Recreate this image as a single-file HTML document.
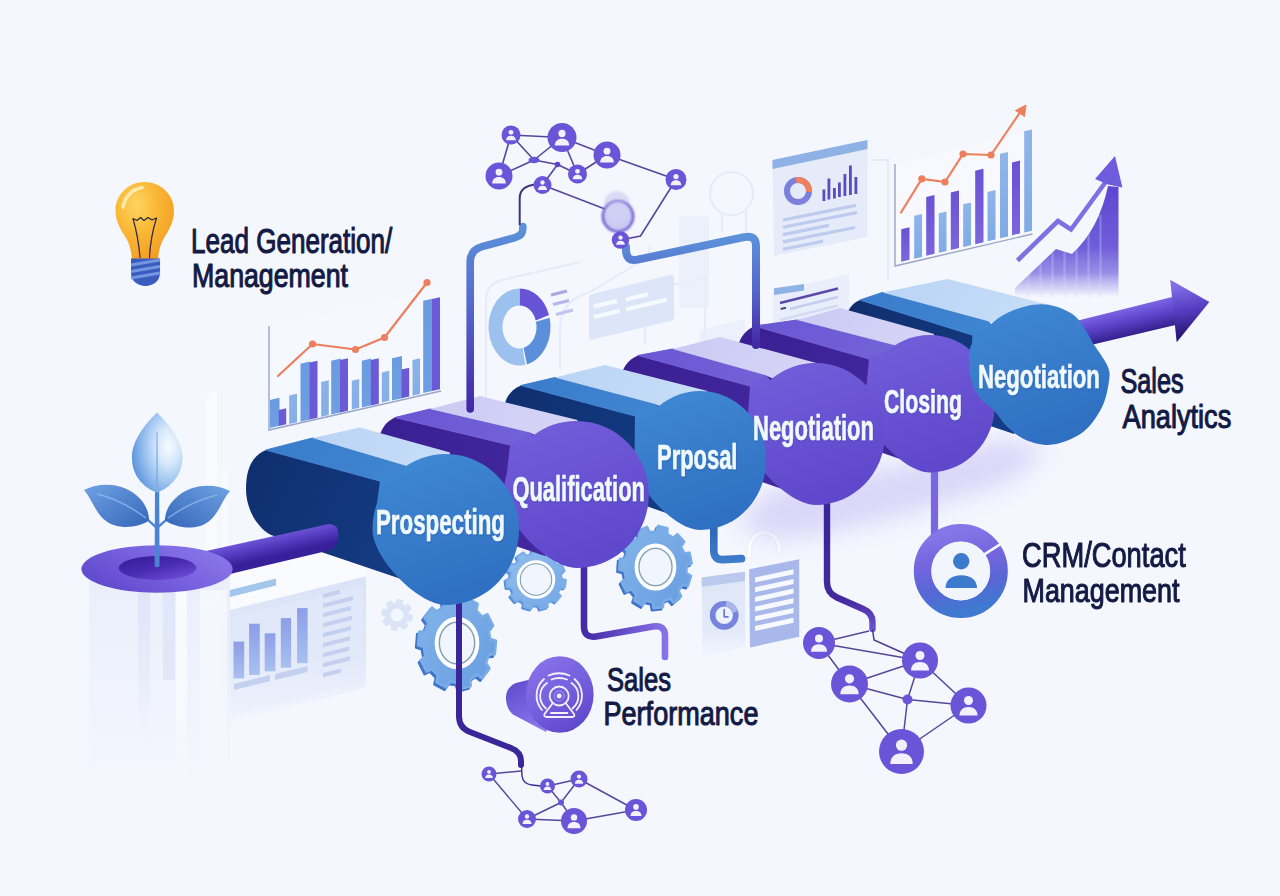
<!DOCTYPE html>
<html lang="en">
<head>
<meta charset="utf-8">
<title>Sales Pipeline</title>
<style>
html,body{margin:0;padding:0;background:#f4f7fe;}
body{width:1280px;height:896px;overflow:hidden;font-family:"Liberation Sans",sans-serif;}
svg{display:block;}
text{font-family:"Liberation Sans",sans-serif;}
</style>
</head>
<body>
<svg width="1280" height="896" viewBox="0 0 1280 896">
<defs>
<linearGradient id="faceB" x1="0" y1="0" x2="0.35" y2="1"><stop offset="0" stop-color="#418ad4"/><stop offset="1" stop-color="#2f70c2"/></linearGradient>
<linearGradient id="faceP" x1="0" y1="0" x2="0.35" y2="1"><stop offset="0" stop-color="#6d58da"/><stop offset="1" stop-color="#5c45c8"/></linearGradient>
<linearGradient id="darkB" x1="0" y1="0" x2="1" y2="0.3"><stop offset="0" stop-color="#0f2e6e"/><stop offset="1" stop-color="#153c84"/></linearGradient>
<linearGradient id="darkP" x1="0" y1="0" x2="1" y2="0.3"><stop offset="0" stop-color="#3a1f92"/><stop offset="1" stop-color="#44289f"/></linearGradient>
<linearGradient id="midB" x1="0" y1="0" x2="1" y2="0.3"><stop offset="0" stop-color="#3a7ccb"/><stop offset="1" stop-color="#4187d2"/></linearGradient>
<linearGradient id="midP" x1="0" y1="0" x2="1" y2="0.3"><stop offset="0" stop-color="#6a56d2"/><stop offset="1" stop-color="#7765da"/></linearGradient>
<linearGradient id="topB" x1="0" y1="0" x2="1" y2="0.3"><stop offset="0" stop-color="#bad4f5"/><stop offset="1" stop-color="#c7ddf8"/></linearGradient>
<linearGradient id="topP" x1="0" y1="0" x2="1" y2="0.3"><stop offset="0" stop-color="#cac9f3"/><stop offset="1" stop-color="#d6d5f7"/></linearGradient>
<linearGradient id="pipeBP" x1="0" y1="225" x2="0" y2="410" gradientUnits="userSpaceOnUse"><stop offset="0" stop-color="#5b93da"/><stop offset="0.45" stop-color="#5566cc"/><stop offset="1" stop-color="#4327a6"/></linearGradient>
<linearGradient id="pipeBP2" x1="0" y1="235" x2="0" y2="346" gradientUnits="userSpaceOnUse"><stop offset="0" stop-color="#5b93da"/><stop offset="0.5" stop-color="#5566cc"/><stop offset="1" stop-color="#4327a6"/></linearGradient>
<linearGradient id="pipeQ" x1="584" y1="0" x2="668" y2="0" gradientUnits="userSpaceOnUse"><stop offset="0" stop-color="#432aa8"/><stop offset="1" stop-color="#8a74ea"/></linearGradient>
<linearGradient id="pipeN" x1="0" y1="505" x2="0" y2="632" gradientUnits="userSpaceOnUse"><stop offset="0" stop-color="#3a2496"/><stop offset="0.75" stop-color="#45299f"/><stop offset="1" stop-color="#7058d8"/></linearGradient>
<linearGradient id="pipeP" x1="0" y1="522" x2="0" y2="562" gradientUnits="userSpaceOnUse"><stop offset="0" stop-color="#2d62b2"/><stop offset="1" stop-color="#3f7ccc"/></linearGradient>
<linearGradient id="arrShaft" x1="1127" y1="306" x2="1134" y2="336" gradientUnits="userSpaceOnUse"><stop offset="0" stop-color="#7f6ae8"/><stop offset="0.5" stop-color="#5a42c8"/><stop offset="1" stop-color="#301d88"/></linearGradient>
<linearGradient id="arrHead" x1="1175" y1="285" x2="1185" y2="338" gradientUnits="userSpaceOnUse"><stop offset="0" stop-color="#8270ea"/><stop offset="0.5" stop-color="#553cc0"/><stop offset="1" stop-color="#24146c"/></linearGradient>
<linearGradient id="rod" x1="270" y1="530" x2="276" y2="556" gradientUnits="userSpaceOnUse"><stop offset="0" stop-color="#7e66e4"/><stop offset="0.5" stop-color="#5a40c6"/><stop offset="1" stop-color="#38209a"/></linearGradient>
<linearGradient id="ring" x1="0" y1="0.8" x2="1" y2="0.2"><stop offset="0" stop-color="#5f46ca"/><stop offset="0.5" stop-color="#7660de"/><stop offset="1" stop-color="#8b78ea"/></linearGradient>
<linearGradient id="hole" x1="0.1" y1="0" x2="0.9" y2="1"><stop offset="0" stop-color="#371c96"/><stop offset="0.5" stop-color="#4a2cb2"/><stop offset="1" stop-color="#7450dc"/></linearGradient>
<linearGradient id="col" x1="0" y1="575" x2="0" y2="805" gradientUnits="userSpaceOnUse"><stop offset="0" stop-color="#e9eefb" stop-opacity="0.95"/><stop offset="0.45" stop-color="#edf1fc" stop-opacity="0.75"/><stop offset="0.8" stop-color="#eff3fd" stop-opacity="0.45"/><stop offset="1" stop-color="#f4f7fe" stop-opacity="0"/></linearGradient>
<linearGradient id="blPanel" x1="0" y1="580" x2="0" y2="725" gradientUnits="userSpaceOnUse"><stop offset="0" stop-color="#dbe4f7" stop-opacity="1"/><stop offset="0.55" stop-color="#e0e8f8" stop-opacity="0.95"/><stop offset="1" stop-color="#eaf0fb" stop-opacity="0.15"/></linearGradient>
<radialGradient id="leafTop" cx="0.72" cy="0.42" r="0.75"><stop offset="0" stop-color="#f6fbff"/><stop offset="0.3" stop-color="#d6e8fb"/><stop offset="0.62" stop-color="#9cc3f0"/><stop offset="1" stop-color="#5a92dc"/></radialGradient>
<linearGradient id="leafL" x1="0" y1="0" x2="1" y2="1"><stop offset="0" stop-color="#6fa2e4"/><stop offset="1" stop-color="#3566b8"/></linearGradient>
<linearGradient id="leafR" x1="1" y1="0" x2="0" y2="1"><stop offset="0" stop-color="#6fa2e4"/><stop offset="1" stop-color="#3566b8"/></linearGradient>
<linearGradient id="grow" x1="0" y1="185" x2="0" y2="298" gradientUnits="userSpaceOnUse"><stop offset="0" stop-color="#5c46d0" stop-opacity="1"/><stop offset="0.55" stop-color="#6a57d8" stop-opacity="0.96"/><stop offset="0.78" stop-color="#8474e0" stop-opacity="0.8"/><stop offset="0.92" stop-color="#a99eea" stop-opacity="0.4"/><stop offset="1" stop-color="#cfc9f4" stop-opacity="0"/></linearGradient>
<linearGradient id="barBP" x1="0" y1="0" x2="1" y2="0"><stop offset="0" stop-color="#6f9fe2"/><stop offset="0.48" stop-color="#6a93e0"/><stop offset="0.52" stop-color="#6a59d6"/><stop offset="1" stop-color="#7b6ae0"/></linearGradient>
<linearGradient id="barLB" x1="0" y1="0" x2="0" y2="1"><stop offset="0" stop-color="#8ab4ea"/><stop offset="1" stop-color="#7aa6e4"/></linearGradient>
<linearGradient id="barPu" x1="0" y1="0" x2="0" y2="1"><stop offset="0" stop-color="#6a52d4"/><stop offset="1" stop-color="#7864dc"/></linearGradient>
<linearGradient id="barBl" x1="0" y1="0" x2="0" y2="1"><stop offset="0" stop-color="#8fb6ea"/><stop offset="1" stop-color="#7da8e4"/></linearGradient>
<linearGradient id="cardBar" x1="0" y1="0" x2="0" y2="1"><stop offset="0" stop-color="#8c9ee6"/><stop offset="1" stop-color="#a9c0f0"/></linearGradient>
<linearGradient id="spIcon" x1="0.2" y1="0" x2="0.8" y2="1"><stop offset="0" stop-color="#8873e8"/><stop offset="0.5" stop-color="#7560de"/><stop offset="1" stop-color="#5c44c8"/></linearGradient>
<linearGradient id="spBack" x1="0" y1="0" x2="0.6" y2="1"><stop offset="0" stop-color="#5d48ca"/><stop offset="0.55" stop-color="#7762de"/><stop offset="1" stop-color="#8d7aea"/></linearGradient>
<linearGradient id="crmRing" x1="0.4" y1="0" x2="0.6" y2="1"><stop offset="0" stop-color="#8575e8"/><stop offset="0.35" stop-color="#7565de"/><stop offset="0.7" stop-color="#5767d6"/><stop offset="1" stop-color="#3f79d0"/></linearGradient>
<radialGradient id="bulb" cx="0.36" cy="0.3" r="0.75"><stop offset="0" stop-color="#fdd562"/><stop offset="0.45" stop-color="#fab938"/><stop offset="1" stop-color="#f39c20"/></radialGradient>
<linearGradient id="gearG" x1="0" y1="0" x2="1" y2="1"><stop offset="0" stop-color="#84b5ea"/><stop offset="1" stop-color="#669ce0"/></linearGradient>
<linearGradient id="gearG2" x1="0" y1="0" x2="1" y2="1"><stop offset="0" stop-color="#90bdee"/><stop offset="1" stop-color="#74a8e6"/></linearGradient>
<linearGradient id="docL" x1="0" y1="572" x2="0" y2="657" gradientUnits="userSpaceOnUse"><stop offset="0" stop-color="#dde5f8" stop-opacity="1"/><stop offset="0.7" stop-color="#e1e8f9" stop-opacity="0.9"/><stop offset="1" stop-color="#e8eefb" stop-opacity="0.3"/></linearGradient>
<linearGradient id="lcB" x1="0" y1="0" x2="0" y2="1"><stop offset="0" stop-color="#6a9be0"/><stop offset="1" stop-color="#6f9fe2"/></linearGradient>
<linearGradient id="lcP" x1="0" y1="0" x2="0" y2="1"><stop offset="0" stop-color="#6c5ad8"/><stop offset="1" stop-color="#6a59d4"/></linearGradient>
<linearGradient id="lcL" x1="0" y1="0" x2="0" y2="1"><stop offset="0" stop-color="#8ab2ea"/><stop offset="1" stop-color="#85aee8"/></linearGradient>
<linearGradient id="rcP" x1="0" y1="0" x2="0" y2="1"><stop offset="0" stop-color="#6a52d4"/><stop offset="1" stop-color="#7a66dc"/></linearGradient>
<linearGradient id="rcL" x1="0" y1="0" x2="0" y2="1"><stop offset="0" stop-color="#8fb6ea"/><stop offset="1" stop-color="#7faae4"/></linearGradient>
<linearGradient id="colStripe" x1="0" y1="588" x2="0" y2="760" gradientUnits="userSpaceOnUse"><stop offset="0" stop-color="#d9e1f6" stop-opacity="0.75"/><stop offset="0.55" stop-color="#e0e7f9" stop-opacity="0.45"/><stop offset="1" stop-color="#f4f7fe" stop-opacity="0"/></linearGradient>
<linearGradient id="colWhite" x1="0" y1="588" x2="0" y2="800" gradientUnits="userSpaceOnUse"><stop offset="0" stop-color="#ffffff" stop-opacity="0.75"/><stop offset="0.6" stop-color="#ffffff" stop-opacity="0.45"/><stop offset="1" stop-color="#ffffff" stop-opacity="0"/></linearGradient>
<filter id="blur6" x="-30%" y="-30%" width="160%" height="160%"><feGaussianBlur stdDeviation="6"/></filter>
<filter id="blur12" x="-30%" y="-30%" width="160%" height="160%"><feGaussianBlur stdDeviation="12"/></filter>
<filter id="blur2" x="-30%" y="-30%" width="160%" height="160%"><feGaussianBlur stdDeviation="2"/></filter>
<filter id="blur1" x="-30%" y="-30%" width="160%" height="160%"><feGaussianBlur stdDeviation="0.8"/></filter>
<clipPath id="clipNegUp"><rect x="950" y="290" width="200" height="105"/></clipPath>
</defs>
<rect x="0" y="0" width="1280" height="896" fill="#f4f7fe"/>
<g id="faint" fill="none" stroke="#e6ebf9" stroke-width="2">
<path d="M470,440 Q486,436 486,420 L486,300 Q486,284 502,280 L580,262"/>
<path d="M560,370 L560,330 Q560,300 590,292 L640,262 Q650,258 650,245"/>
<path d="M645,345 L645,292 L705,277 L705,345"/>
<circle cx="731.5" cy="193.5" r="21.5"/>
<path d="M722,213 L722,232 M746,209 L746,232"/>
<path d="M870,160 L888,160 L888,280"/>
</g>
<polygon points="700,355 700,330 745,319 745,345" fill="#e9eefb" opacity="0.8"/>
<polygon points="700,335 745,250 745,319 700,330" fill="#edf1fc" opacity="0.0"/>
<rect x="679" y="216" width="30" height="92" rx="3" fill="#e9edfa" opacity="0.75"/>
<path d="M205,560 L205,404 Q205,392 217,392 L217,560 Z" fill="#fbfcff" opacity="0.75"/>
<rect x="222" y="470" width="5" height="90" fill="#fbfcff" opacity="0.6"/>
<g id="leftChart">
<polygon points="269,326 441,287 441,391 269,430" fill="#ffffff" opacity="0.15"/>
<path d="M269,326 L269,430 L441,391" fill="none" stroke="#9aa6c8" stroke-width="1.4"/>
<polygon points="270,428 279.5,425.8 279.5,397.8 270,400" fill="url(#lcB)"/>
<polygon points="278.8,426 286.2,424.3 286.2,408.3 278.8,410" fill="url(#lcP)"/>
<polygon points="289.2,424 297,422.2 297,393.7 289.2,395.5" fill="url(#lcL)"/>
<polygon points="300.5,421.8 310,419.6 310,361.6 300.5,363.8" fill="url(#lcB)"/>
<polygon points="309.5,419.5 317.5,417.7 317.5,360.7 309.5,362.5" fill="url(#lcP)"/>
<polygon points="321.2,416.8 328.8,415 328.8,380.3 321.2,382" fill="url(#lcL)"/>
<polygon points="331.2,414.5 340.8,412.3 340.8,358.6 331.2,360.8" fill="url(#lcB)"/>
<polygon points="340,412.5 348,410.7 348,358.2 340,360" fill="url(#lcP)"/>
<polygon points="351.8,409.5 359.2,407.8 359.2,379 351.8,380.8" fill="url(#lcL)"/>
<polygon points="361.8,407.5 371.2,405.3 371.2,358.6 361.8,360.8" fill="url(#lcB)"/>
<polygon points="370.8,405.5 378.8,403.7 378.8,358.2 370.8,360" fill="url(#lcP)"/>
<polygon points="381.8,402.5 389.2,400.8 389.2,370.8 381.8,372.5" fill="url(#lcL)"/>
<polygon points="392,400.5 402,398.2 402,356 392,358.2" fill="url(#lcB)"/>
<polygon points="401.5,398.2 409.2,396.5 409.2,367.7 401.5,369.5" fill="url(#lcP)"/>
<polygon points="412.5,395.8 420,394 420,358.3 412.5,360" fill="url(#lcL)"/>
<polygon points="423.2,393 432.5,390.9 432.5,298.7 423.2,300.8" fill="url(#lcB)"/>
<polygon points="432,391 440,389.2 440,297.2 432,299" fill="url(#lcP)"/>
<polyline points="278,376 312.5,344 355.5,349.5 384.5,337.5 427,282.5" fill="none" stroke="#ee7f5c" stroke-width="2.2" stroke-linejoin="round" stroke-linecap="round"/>
<circle cx="312.5" cy="344" r="3.6" fill="#ee7f5c"/>
<circle cx="355.5" cy="349.5" r="3.6" fill="#ee7f5c"/>
<circle cx="384.5" cy="337.5" r="3.6" fill="#ee7f5c"/>
<circle cx="427" cy="282.5" r="3.6" fill="#ee7f5c"/>
</g>
<g id="donutBig">
<path d="M519.5,288.5 A31,38.5 0 0 1 549,315.1 L535.7,320.4 A17,21.5 0 0 0 519.5,305.5 Z" fill="#6653d6"/>
<path d="M549.6,317.7 A31,38.5 0 0 1 527,364.4 L523.6,347.9 A17,21.5 0 0 0 536,321.8 Z" fill="#5c8fda"/>
<path d="M525.4,364.8 A31,38.5 0 1 1 519.5,288.5 L519.5,305.5 A17,21.5 0 1 0 522.7,348.1 Z" fill="#9cc1ee"/>
<line x1="551" y1="295" x2="567" y2="291" stroke="#a9a6e4" stroke-width="3.2"/>
<line x1="553" y1="304.5" x2="569" y2="300.5" stroke="#b4b6ea" stroke-width="3.2"/>
<line x1="556" y1="314.5" x2="573" y2="310" stroke="#c0c6ee" stroke-width="3.2"/>
</g>
<g id="midCard">
<path d="M592,294 L670,275 Q674,274 674,278 L674,317 Q674,320 670,321 L593,339.5 Q589,340.5 589,336 L589,298 Q589,295 592,294 Z" fill="#dde5f8"/>
<line x1="594" y1="306.5" x2="617" y2="300.9" stroke="#f6f9ff" stroke-width="4.2"/>
<line x1="594" y1="317" x2="620" y2="310.7" stroke="#f6f9ff" stroke-width="4.2"/>
<line x1="626" y1="299.5" x2="648" y2="294.2" stroke="#f6f9ff" stroke-width="4.2"/>
<line x1="626" y1="309.5" x2="667" y2="299.5" stroke="#f6f9ff" stroke-width="4.2"/>
</g>
<g id="dashCard">
<polygon points="772.5,160 867.5,140 867.5,237 774,256" fill="#e6ebfa"/>
<polygon points="772.5,160 867.5,140 867.5,149 772.5,169" fill="#8fb2e6"/>
<circle cx="798" cy="191" r="11" fill="none" stroke="#7c80dc" stroke-width="6"/>
<path d="M796.1,180.2 A11,11 0 0 1 809,192" fill="none" stroke="#ee825c" stroke-width="6"/>
<rect x="822.5" y="189.5" width="2.8" height="11.5" fill="#5a4cbe"/>
<rect x="827.5" y="178.5" width="2.8" height="21" fill="#5a4cbe"/>
<rect x="833" y="188" width="2.8" height="10.5" fill="#5a4cbe"/>
<rect x="838" y="182.5" width="2.8" height="14.5" fill="#5a4cbe"/>
<rect x="843.5" y="174" width="2.8" height="22" fill="#5a4cbe"/>
<rect x="849" y="165.5" width="2.8" height="29.5" fill="#5a4cbe"/>
<rect x="854.5" y="177" width="2.8" height="17" fill="#5a4cbe"/>
<line x1="783" y1="220" x2="856" y2="205.4" stroke="#bccbee" stroke-width="3.2"/>
<line x1="783" y1="227.3" x2="857" y2="212.5" stroke="#bccbee" stroke-width="3.2"/>
<line x1="783" y1="234.6" x2="829" y2="225.4" stroke="#bccbee" stroke-width="3.2"/>
<line x1="783" y1="241.9" x2="855" y2="227.5" stroke="#bccbee" stroke-width="3.2"/>
<line x1="783" y1="249.2" x2="823" y2="241.2" stroke="#bccbee" stroke-width="3.2"/>
</g>
<g id="smallCard">
<polygon points="773,292 849,274 849,318 773,336" fill="#e9eefa"/>
<polygon points="774,288.3 804,283.9 804,290.6 774,295" fill="#8fb2e6"/>
<line x1="780" y1="303" x2="838" y2="288.5" stroke="#5b4aa8" stroke-width="2.6"/>
<line x1="780.6" y1="309" x2="786" y2="307.7" stroke="#4f4a78" stroke-width="2.2"/>
<line x1="790" y1="309" x2="838" y2="297" stroke="#c3cff0" stroke-width="2.6"/>
<line x1="780" y1="320" x2="838" y2="305.5" stroke="#d2dbf4" stroke-width="2.6"/>
</g>
<g id="rightChart">
<polygon points="895,164 1032.5,132 1032.5,234 895,266" fill="#ffffff" opacity="0.3"/>
<path d="M895,164 L895,266 L1032.5,234" fill="none" stroke="#9aa6c8" stroke-width="1.4"/>
<polygon points="901.2,261.8 909.5,259.8 909.5,227.3 901.2,229.2" fill="url(#rcP)"/>
<polygon points="914.2,258.8 922,256.9 922,213.9 914.2,215.8" fill="url(#rcL)"/>
<polygon points="926.2,255.8 934.5,253.8 934.5,195.1 926.2,197" fill="url(#rcP)"/>
<polygon points="938.8,252.8 946.5,250.9 946.5,211.4 938.8,213.2" fill="url(#rcL)"/>
<polygon points="950.8,250 959,248.1 959,190.6 950.8,192.5" fill="url(#rcP)"/>
<polygon points="963.2,247 971,245.2 971,202.4 963.2,204.2" fill="url(#rcL)"/>
<polygon points="975.2,244.2 983.5,242.3 983.5,168.8 975.2,170.8" fill="url(#rcP)"/>
<polygon points="987.5,241.2 995.5,239.4 995.5,190.1 987.5,192" fill="url(#rcL)"/>
<polygon points="1000,238.2 1008,236.4 1008,151.9 1000,153.8" fill="url(#rcL)"/>
<polygon points="1012,235.2 1020,233.4 1020,160.6 1012,162.5" fill="url(#rcP)"/>
<polygon points="1024.2,232.5 1032,230.7 1032,129.4 1024.2,131.2" fill="url(#rcL)"/>
<polyline points="901,212.5 921.8,178.8 945,182 963,154 991,155 1021,111" fill="none" stroke="#ee7f5c" stroke-width="2.2" stroke-linejoin="round" stroke-linecap="round"/>
<circle cx="921.8" cy="178.8" r="3.6" fill="#ee7f5c"/>
<circle cx="945" cy="182" r="3.6" fill="#ee7f5c"/>
<circle cx="963" cy="154" r="3.6" fill="#ee7f5c"/>
<circle cx="991" cy="155" r="3.6" fill="#ee7f5c"/>
<polygon points="1026,105 1015.5,110.5 1024.5,116.5" fill="#ee7f5c" stroke="#ee7f5c" stroke-width="1" stroke-linejoin="round"/>
</g>
<g id="growth">
<clipPath id="growClip"><path d="M1015,288 L1056,249 L1072,254 Q1099,229 1108,186 L1118.5,187 L1118.5,298 L1015,298 Z"/></clipPath>
<path d="M1015,288 L1056,249 L1072,254 Q1099,229 1108,186 L1118.5,187 L1118.5,298 L1015,298 Z" fill="url(#grow)"/>
<g clip-path="url(#growClip)">
<line x1="1028.5" y1="215" x2="1028.5" y2="297" stroke="#dcd8f8" stroke-width="2.2" opacity="0.3"/>
<line x1="1040.5" y1="215" x2="1040.5" y2="297" stroke="#dcd8f8" stroke-width="2.2" opacity="0.3"/>
<line x1="1052.5" y1="215" x2="1052.5" y2="297" stroke="#dcd8f8" stroke-width="2.2" opacity="0.3"/>
<line x1="1064.5" y1="215" x2="1064.5" y2="297" stroke="#dcd8f8" stroke-width="2.2" opacity="0.3"/>
<line x1="1076.5" y1="215" x2="1076.5" y2="297" stroke="#dcd8f8" stroke-width="2.2" opacity="0.3"/>
<line x1="1088.5" y1="215" x2="1088.5" y2="297" stroke="#dcd8f8" stroke-width="2.2" opacity="0.3"/>
<line x1="1100.5" y1="215" x2="1100.5" y2="297" stroke="#dcd8f8" stroke-width="2.2" opacity="0.3"/>
</g>
<polyline points="1017.5,260.5 1058,221 1071,229.5 1106,181.5" fill="none" stroke="#7e70e2" stroke-width="4.6" stroke-linejoin="miter" stroke-linecap="butt"/>
<polygon points="1115,156 1095,179 1108,184.5 1122.4,187.6" fill="#6f5cdc"/>
</g>
<g id="blCard">
<polygon points="220,566 366,530 366,576 220,612.5" fill="#fafcff" opacity="0.85"/>
<polygon points="222,592 276,578.5 276,585.5 222,599" fill="#a3c6ec"/>
<polygon points="222,592 228,590.5 228,597.5 222,599" fill="#c5d9f3"/>
<path d="M220,612.5 L363,577 Q366,576.3 366,579 L366,685 Q366,687.5 363,688.3 L220,725 Z" fill="url(#blPanel)"/>
<path d="M231,618 L363,585 L363,683 L231,716 Z" fill="#e6ecfb" opacity="0.35"/>
<rect x="233.5" y="641.6" width="10.7" height="36.8" fill="url(#cardBar)"/>
<rect x="249.1" y="623.7" width="10.7" height="51.3" fill="url(#cardBar)"/>
<rect x="264.7" y="633.3" width="10.7" height="38" fill="url(#cardBar)"/>
<rect x="280.8" y="618.1" width="10.3" height="49.6" fill="url(#cardBar)"/>
<rect x="297.1" y="608.1" width="10.5" height="55.1" fill="url(#cardBar)"/>
<polygon points="234,684 270,675 270,681 234,690" fill="#c3d1ef"/>
<polygon points="275,674 307.5,666 307.5,672 275,680" fill="#c3d1ef"/>
<polygon points="323,594 340,589.8 340,594 323,598.2" fill="#c4d0ef"/>
<polygon points="323,603.5 353,596 353,600.2 323,607.7" fill="#c4d0ef"/>
<polygon points="323,613 351,606 351,610.2 323,617.2" fill="#c4d0ef"/>
<polygon points="323,623 352,615.8 352,620 323,627.2" fill="#c4d0ef"/>
<polygon points="323,633 351,626 351,630.2 323,637.2" fill="#c4d0ef"/>
<polygon points="323,643 350,636.2 350,640.5 323,647.2" fill="#c4d0ef"/>
<polygon points="323,653 349,646.5 349,650.7 323,657.2" fill="#c4d0ef"/>
<polygon points="323,663 350,656.2 350,660.5 323,667.2" fill="#c4d0ef"/>
<polygon points="323,673 341,668.5 341,672.7 323,677.2" fill="#c4d0ef"/>
</g>
<g id="plantBack">
<path d="M89,575 L89,806 L230,806 L230,575 Z" fill="url(#col)"/>
<rect x="138" y="590" width="12" height="170" fill="url(#colStripe)"/>
<rect x="163" y="590" width="12" height="90" fill="#dbe3f7" opacity="0.7"/>
<rect x="176" y="590" width="11" height="210" fill="url(#colWhite)"/>
<rect x="200" y="590" width="27" height="210" fill="url(#colWhite)" opacity="0.7"/>
</g>
<g id="docCards">
<polygon points="701.7,577.5 745,571.7 745,646.7 702.5,656.7" fill="url(#docL)"/>
<polygon points="701.7,577.5 745,571.7 745,581 701.7,586.8" fill="#bcc9ee"/>
<circle cx="724.2" cy="615.3" r="11.6" fill="#dfe6f8" stroke="#7884dc" stroke-width="5.6"/>
<path d="M726,603.8 A11.6,11.6 0 0 1 735.4,612" fill="none" stroke="#a9b4ec" stroke-width="5.6"/>
<circle cx="724.2" cy="615.3" r="8" fill="#eef2fc"/>
<path d="M724.2,609.5 L724.2,616.8 L728,616.8" fill="none" stroke="#6a78d4" stroke-width="1.7" stroke-linecap="round" stroke-linejoin="round"/>
<polygon points="749.2,569.2 799.2,559.2 799.2,636.7 750,647.5" fill="#a9b8ea"/>
<polygon points="755,577.5 793.5,569.2 793.5,574.2 755,582.5" fill="#f6f9ff"/>
<polygon points="755,587.2 793.5,578.9 793.5,583.9 755,592.2" fill="#f6f9ff"/>
<polygon points="755,596.9 793.5,588.6 793.5,593.6 755,601.9" fill="#f6f9ff"/>
<polygon points="755,606.6 793.5,598.3 793.5,603.3 755,611.6" fill="#f6f9ff"/>
<polygon points="755,616.3 793.5,608 793.5,613 755,621.3" fill="#f6f9ff"/>
<polygon points="755,626 793.5,617.7 793.5,622.7 755,631" fill="#f6f9ff"/>
<path d="M749.5,556 L749.5,548 A14.75,15.5 0 0 1 779,548 L779,551.5" fill="none" stroke="#e3e6f7" stroke-width="5.4" stroke-linecap="round" opacity="0.8"/>
<path d="M749.5,556 L749.5,548 A14.75,15.5 0 0 1 779,548 L779,551.5" fill="none" stroke="#ffffff" stroke-width="3.8" stroke-linecap="round"/>
</g>
<g id="bulb">
<path d="M144.5,182 C128,182 115.5,195 115.5,210.5 C115.5,222 121,230 126,238 C130,245 131.5,252 132,260 L158,260 C158.5,252 160,245 164,238 C169,230 174,222 174,210.5 C174,195 161,182 144.5,182 Z" fill="url(#bulb)"/>
<path d="M123,207 C125,196 133,189 142,187.5" fill="none" stroke="#fff0bd" stroke-width="3.6" stroke-linecap="round" opacity="0.85"/>
<path d="M140,258 C139,243 136.5,231 133,218.5 L137,220.5 L140.5,217.5 L144,220.5 L148,217.5 L152,220 L156.5,218 C152.5,231 150,243 149.5,258" fill="none" stroke="#2a2740" stroke-width="1.2" stroke-linejoin="round"/>
<path d="M131,258.5 L160,258.5 L160,273 C160,281 153,286 145.5,286 C138,286 131,281 131,273 Z" fill="#3a5cbe"/>
<path d="M131,265 L160,260" stroke="#7395e2" stroke-width="3" fill="none"/>
<path d="M131,271.5 L160,266.5" stroke="#7395e2" stroke-width="3" fill="none"/>
<path d="M131,278 L160,273" stroke="#7395e2" stroke-width="3" fill="none"/>
</g>
<g filter="url(#blur12)" opacity="0.6"><polygon points="735,520 775,488 880,470 1000,440 1050,448 1010,482 905,515 820,535 770,540" fill="#c9c1f5"/></g>
<g id="gears">
<g transform="translate(397,615)"><path d="M11.5,-0.4 L15,0.5 L14,5.4 L10.4,4.9 L8.4,7.8 L10.2,11 L6.1,13.7 L3.9,10.8 L0.4,11.5 L-0.5,15 L-5.4,14 L-4.9,10.4 L-7.8,8.4 L-11,10.2 L-13.7,6.1 L-10.8,3.9 L-11.5,0.4 L-15,-0.5 L-14,-5.4 L-10.4,-4.9 L-8.4,-7.8 L-10.2,-11 L-6.1,-13.7 L-3.9,-10.8 L-0.4,-11.5 L0.5,-15 L5.4,-14 L4.9,-10.4 L7.8,-8.4 L11,-10.2 L13.7,-6.1 L10.8,-3.9Z" fill="#dbe4f6" stroke="#dbe4f6" stroke-width="2" stroke-linejoin="round"/><circle r="6.5" fill="#f3f6fe"/></g>
<g transform="translate(536,579.5) scale(0.750,0.750)" opacity="1.0"><path d="M34.4,-0.9 L40,0.7 L38.4,11.1 L32.6,11.1 L29.4,17.8 L33.2,22.2 L26.3,30.1 L21.4,26.9 L15.1,30.9 L15.9,36.7 L5.9,39.6 L3.5,34.2 L-4,34.2 L-6.4,39.5 L-16.5,36.5 L-15.6,30.7 L-21.8,26.6 L-26.8,29.7 L-33.6,21.8 L-29.7,17.4 L-32.7,10.6 L-38.6,10.6 L-40,0.2 L-34.4,-1.4 L-33.3,-8.8 L-38.2,-12 L-33.7,-21.5 L-28.1,-19.8 L-23.2,-25.4 L-25.6,-30.7 L-16.8,-36.3 L-13,-31.9 L-5.8,-33.9 L-5,-39.7 L5.5,-39.6 L6.3,-33.8 L13.4,-31.7 L17.3,-36.1 L26.1,-30.3 L23.6,-25 L28.4,-19.4 L34,-21 L38.3,-11.4 L33.4,-8.3Z" fill="#5a8ed8" transform="translate(-2,2)" stroke="#5a8ed8" stroke-width="2.5" stroke-linejoin="round"/><path d="M34.4,-0.9 L40,0.7 L38.4,11.1 L32.6,11.1 L29.4,17.8 L33.2,22.2 L26.3,30.1 L21.4,26.9 L15.1,30.9 L15.9,36.7 L5.9,39.6 L3.5,34.2 L-4,34.2 L-6.4,39.5 L-16.5,36.5 L-15.6,30.7 L-21.8,26.6 L-26.8,29.7 L-33.6,21.8 L-29.7,17.4 L-32.7,10.6 L-38.6,10.6 L-40,0.2 L-34.4,-1.4 L-33.3,-8.8 L-38.2,-12 L-33.7,-21.5 L-28.1,-19.8 L-23.2,-25.4 L-25.6,-30.7 L-16.8,-36.3 L-13,-31.9 L-5.8,-33.9 L-5,-39.7 L5.5,-39.6 L6.3,-33.8 L13.4,-31.7 L17.3,-36.1 L26.1,-30.3 L23.6,-25 L28.4,-19.4 L34,-21 L38.3,-11.4 L33.4,-8.3Z" fill="url(#gearG2)" stroke="#7aade8" stroke-width="2.5" stroke-linejoin="round"/><circle r="24" fill="#f0f5fe" stroke="#ffffff" stroke-width="3.4"/><circle r="20.9" fill="none" stroke="#6c8fa6" stroke-width="1.4" opacity="0.85"/></g>
<g transform="translate(655.5,567) scale(0.912,1.030)" opacity="1.0"><path d="M33.9,5.9 L39,8.7 L35.5,18.5 L29.7,17.3 L25.3,23.3 L28.2,28.4 L19.8,34.7 L15.7,30.6 L8.7,33.3 L8.3,39.1 L-2.1,39.9 L-3.4,34.2 L-10.7,32.7 L-14.1,37.4 L-23.4,32.5 L-21.4,27 L-26.7,21.7 L-32.1,23.8 L-37.2,14.7 L-32.5,11.1 L-34.2,3.9 L-39.9,2.7 L-39.2,-7.8 L-33.4,-8.2 L-30.8,-15.2 L-35,-19.3 L-28.8,-27.8 L-23.7,-25 L-17.7,-29.5 L-19,-35.2 L-9.2,-38.9 L-6.4,-33.8 L1,-34.4 L3,-39.9 L13.3,-37.7 L12.9,-31.9 L19.5,-28.4 L24.1,-31.9 L31.6,-24.6 L28.1,-19.9 L31.7,-13.3 L37.5,-13.8 L39.8,-3.6 L34.4,-1.5Z" fill="#3f74c6" transform="translate(-2,2)" stroke="#3f74c6" stroke-width="2.5" stroke-linejoin="round"/><path d="M33.9,5.9 L39,8.7 L35.5,18.5 L29.7,17.3 L25.3,23.3 L28.2,28.4 L19.8,34.7 L15.7,30.6 L8.7,33.3 L8.3,39.1 L-2.1,39.9 L-3.4,34.2 L-10.7,32.7 L-14.1,37.4 L-23.4,32.5 L-21.4,27 L-26.7,21.7 L-32.1,23.8 L-37.2,14.7 L-32.5,11.1 L-34.2,3.9 L-39.9,2.7 L-39.2,-7.8 L-33.4,-8.2 L-30.8,-15.2 L-35,-19.3 L-28.8,-27.8 L-23.7,-25 L-17.7,-29.5 L-19,-35.2 L-9.2,-38.9 L-6.4,-33.8 L1,-34.4 L3,-39.9 L13.3,-37.7 L12.9,-31.9 L19.5,-28.4 L24.1,-31.9 L31.6,-24.6 L28.1,-19.9 L31.7,-13.3 L37.5,-13.8 L39.8,-3.6 L34.4,-1.5Z" fill="url(#gearG)" stroke="#7aade8" stroke-width="2.5" stroke-linejoin="round"/><circle r="21.2" fill="#f0f5fe" stroke="#ffffff" stroke-width="3.4"/><circle r="18.1" fill="none" stroke="#6c8fa6" stroke-width="1.4" opacity="0.85"/></g>
<g transform="translate(457,643) scale(0.975,1.150)" opacity="1.0"><path d="M34.2,-3.3 L40,-1.8 L38.8,9.7 L32.9,10 L29.6,17.5 L33.4,22 L25.7,30.6 L20.8,27.4 L13.7,31.6 L14,37.5 L2.8,39.9 L0.7,34.4 L-7.5,33.6 L-10.7,38.6 L-21.2,33.9 L-19.7,28.2 L-25.8,22.8 L-31.3,24.9 L-37.1,15 L-32.5,11.3 L-34.2,3.3 L-40,1.8 L-38.8,-9.7 L-32.9,-10 L-29.6,-17.5 L-33.4,-22 L-25.7,-30.6 L-20.8,-27.4 L-13.7,-31.6 L-14,-37.5 L-2.8,-39.9 L-0.7,-34.4 L7.5,-33.6 L10.7,-38.6 L21.2,-33.9 L19.7,-28.2 L25.8,-22.8 L31.3,-24.9 L37.1,-15 L32.5,-11.3Z" fill="#3f74c6" transform="translate(-2,2)" stroke="#3f74c6" stroke-width="2.5" stroke-linejoin="round"/><path d="M34.2,-3.3 L40,-1.8 L38.8,9.7 L32.9,10 L29.6,17.5 L33.4,22 L25.7,30.6 L20.8,27.4 L13.7,31.6 L14,37.5 L2.8,39.9 L0.7,34.4 L-7.5,33.6 L-10.7,38.6 L-21.2,33.9 L-19.7,28.2 L-25.8,22.8 L-31.3,24.9 L-37.1,15 L-32.5,11.3 L-34.2,3.3 L-40,1.8 L-38.8,-9.7 L-32.9,-10 L-29.6,-17.5 L-33.4,-22 L-25.7,-30.6 L-20.8,-27.4 L-13.7,-31.6 L-14,-37.5 L-2.8,-39.9 L-0.7,-34.4 L7.5,-33.6 L10.7,-38.6 L21.2,-33.9 L19.7,-28.2 L25.8,-22.8 L31.3,-24.9 L37.1,-15 L32.5,-11.3Z" fill="url(#gearG)" stroke="#7aade8" stroke-width="2.5" stroke-linejoin="round"/><circle r="21.2" fill="#f0f5fe" stroke="#ffffff" stroke-width="3.4"/><circle r="18.1" fill="none" stroke="#6c8fa6" stroke-width="1.4" opacity="0.85"/></g>
</g>
<g id="underPipes" fill="none" stroke-linecap="round" stroke-linejoin="round">
<path d="M459,600 L459,716 Q459,728 470,732 L511,748 Q521,752 521,761 L521,765" stroke="#3b2699" stroke-width="6"/>
<path d="M584,560 L584,626 Q584,638.5 596,636.5 L653,626.5 Q665,624.5 665,636 L665,657" stroke="url(#pipeQ)" stroke-width="6.6"/>
<path d="M713.8,520 L713.8,550.5 Q713.8,560 723,559.6 L741.5,558.6" stroke="url(#pipeP)" stroke-width="7.6"/>
<path d="M827,498 L827,582 Q827,593 837,597.5 L863,609 Q872.5,613 872.5,622 L872.5,629" stroke="url(#pipeN)" stroke-width="6.4"/>
<path d="M934.5,462 L934.5,536" stroke="#7b66e2" stroke-width="7.2" stroke-linecap="butt"/>
</g>
<g id="pipeline">
<polygon points="1066,323.5 1174,296.6 1177.5,324.5 1076,348.5" fill="url(#arrShaft)"/>
<polygon points="1170.2,279.7 1209.4,302 1176.7,342.3" fill="url(#arrHead)"/>
<path d="M860,300 C846,306 845,318 845,338 C845,360 854,378 866,384 L1014,434 L1039,375 L972.5,335 Z" fill="url(#darkB)"/>
<polygon points="860,300 882.5,292.5 987.5,321 1039,375 972.5,335" fill="url(#midB)" stroke="url(#midB)" stroke-width="1.2" stroke-linejoin="round"/>
<polygon points="882.5,292.5 947.5,279 1050,305 1039,340 987.5,321" fill="url(#topB)"/>
<linearGradient id="fg5" x1="969" y1="305" x2="1018" y2="445" gradientUnits="userSpaceOnUse"><stop offset="0" stop-color="#418ad4"/><stop offset="1" stop-color="#2f70c2"/></linearGradient>
<polygon points="987.5,321 972.5,335 969.4,379 1039,375" fill="url(#fg5)"/>
<path d="M755,326 C741,332 736,344 736,364 C736,386 746,404 758,410 L900,459 L929.5,403.8 L869,359 Z" fill="url(#darkP)"/>
<polygon points="755,326 797,320 897.5,346 929.5,403.8 869,359" fill="url(#midP)" stroke="url(#midP)" stroke-width="1.2" stroke-linejoin="round"/>
<polygon points="797,320 840,308 934,334 929.5,369.4 897.5,346" fill="url(#topP)"/>
<linearGradient id="fg4" x1="864" y1="335" x2="909.9" y2="472.5" gradientUnits="userSpaceOnUse"><stop offset="0" stop-color="#735fdc"/><stop offset="1" stop-color="#5f48cb"/></linearGradient>
<polygon points="897.5,346 869,359 864.4,407.8 929.5,403.8" fill="url(#fg4)"/>
<path d="M864,403.8 C864,365.8 893.3,335 929.5,335 C965.7,335 995,365.8 995,403.8 C995,441.7 965.7,472.5 929.5,472.5 C904.6,472.5 864,429.9 864,403.8 Z" fill="url(#fg4)"/>
<path d="M969,366 C968.8,360.3 968.7,352 970.5,347 C972.3,342 975.1,341 980,336 C984.9,331 992.5,321.9 1000,317 C1007.5,312.1 1016.9,308.4 1025,306.4 C1033.1,304.4 1040.7,303.4 1048.7,304.8 C1056.8,306.2 1067.1,310.3 1073.3,314.7 C1079.5,319.1 1082.5,325.9 1086,331 C1089.5,336.1 1090.6,339.2 1094.2,345 C1097.8,350.8 1105,359.9 1107.5,365.9 C1110,371.9 1110,374.1 1109,381 C1108,387.9 1106.2,399.1 1101.8,407.6 C1097.4,416.2 1091,426.1 1082.8,432.3 C1074.6,438.5 1062,443.3 1052.5,444.6 C1043,445.9 1033.5,442.9 1025.9,439.9 C1018.3,436.9 1012,431.3 1006.9,426.6 C1001.8,421.9 999.5,416.3 995,411.5 C990.5,406.7 983.9,403.1 980,398 C976.1,392.9 973.3,386.3 971.5,381 C969.7,375.7 969.2,371.7 969,366 Z" fill="url(#fg5)"/>
<path d="M638,355.5 C624,361.5 619,374 619,394 C619,416 630,435 642,441 L785,490 L815.5,434 L750,386 Z" fill="url(#darkP)"/>
<polygon points="638,355.5 672.5,349 765,375 815.5,434 750,386" fill="url(#midP)" stroke="url(#midP)" stroke-width="1.2" stroke-linejoin="round"/>
<polygon points="672.5,349 720,337 820,364 815.5,398.5 765,375" fill="url(#topP)"/>
<linearGradient id="fg3" x1="746" y1="363" x2="794.6" y2="505" gradientUnits="userSpaceOnUse"><stop offset="0" stop-color="#735fdc"/><stop offset="1" stop-color="#5f48cb"/></linearGradient>
<polygon points="765,375 750,386 746.4,438 815.5,434" fill="url(#fg3)"/>
<path d="M746,434 C746,394.8 777.1,363 815.5,363 C853.9,363 885,394.8 885,434 C885,473.2 853.9,505 815.5,505 C789.1,505 746,461 746,434 Z" fill="url(#fg3)"/>
<path d="M521,385.5 C507,391.5 503,402 503,422 C503,444 513,458 525,464 L672,515 L700,460.5 L635,416 Z" fill="url(#darkB)"/>
<polygon points="521,385.5 555,377.5 655,404 700,460.5 635,416" fill="url(#midB)" stroke="url(#midB)" stroke-width="1.2" stroke-linejoin="round"/>
<polygon points="555,377.5 605,365 707.5,391 700,425.8 655,404" fill="url(#topB)"/>
<linearGradient id="fg2" x1="634" y1="391" x2="680.2" y2="530" gradientUnits="userSpaceOnUse"><stop offset="0" stop-color="#418ad4"/><stop offset="1" stop-color="#2f70c2"/></linearGradient>
<polygon points="655,404 635,416 634.4,464.5 700,460.5" fill="url(#fg2)"/>
<path d="M634,460.5 C634,422.1 663.5,391 700,391 C736.5,391 766,422.1 766,460.5 C766,498.9 736.5,530 700,530 C674.9,530 634,486.9 634,460.5 Z" fill="url(#fg2)"/>
<path d="M395,417.5 C381,423.5 377,438 377,458 C377,480 388,501 400,507 L545,556 L576.2,494.5 L510,445 Z" fill="url(#darkP)"/>
<polygon points="395,417.5 430,409 530,432.5 576.2,494.5 510,445" fill="url(#midP)" stroke="url(#midP)" stroke-width="1.2" stroke-linejoin="round"/>
<polygon points="430,409 480,396 577.5,420 576.2,457.8 530,432.5" fill="url(#topP)"/>
<linearGradient id="fg1" x1="503.8" y1="421" x2="554.5" y2="568" gradientUnits="userSpaceOnUse"><stop offset="0" stop-color="#735fdc"/><stop offset="1" stop-color="#5f48cb"/></linearGradient>
<polygon points="530,432.5 510,445 504.1,498.5 576.2,494.5" fill="url(#fg1)"/>
<path d="M503.8,494.5 C503.8,453.9 536.2,421 576.2,421 C616.3,421 648.8,453.9 648.8,494.5 C648.8,535.1 616.3,568 576.2,568 C548.7,568 503.8,522.4 503.8,494.5 Z" fill="url(#fg1)"/>
<path d="M266,450 C252,456 246,469 246,489 C246,511 259,529 271,535 L410,582 L445.8,529.5 L380,481 Z" fill="url(#darkB)"/>
<polygon points="266,450 312.5,438 405,465.5 445.8,529.5 380,481" fill="url(#midB)" stroke="url(#midB)" stroke-width="1.2" stroke-linejoin="round"/>
<polygon points="312.5,438 360,427.5 450,452.5 445.8,491.8 405,465.5" fill="url(#topB)"/>
<linearGradient id="fg0" x1="372.5" y1="454" x2="423.8" y2="605" gradientUnits="userSpaceOnUse"><stop offset="0" stop-color="#418ad4"/><stop offset="1" stop-color="#2f70c2"/></linearGradient>
<polygon points="405,465.5 380,481 372.9,533.5 445.8,529.5" fill="url(#fg0)"/>
<path d="M372.5,529.5 C372.5,487.8 405.3,454 445.8,454 C486.2,454 519,487.8 519,529.5 C519,571.2 486.2,605 445.8,605 C417.9,605 372.5,558.2 372.5,529.5 Z" fill="url(#fg0)"/>
</g>
<g id="plant">
<path d="M206,551 L329,524 Q339.5,524 338.5,537 Q337,548 331,550 L226,575 Z" fill="url(#rod)"/>
<ellipse cx="157" cy="569" rx="75.6" ry="23.8" fill="url(#ring)"/>
<ellipse cx="157.5" cy="568" rx="38.8" ry="12" fill="url(#hole)"/>
<path d="M155,490 L159.2,490 L159.6,566 Q157,568.5 154.6,566 Z" fill="#4b84d4"/>
<path d="M157,528 Q150,522 144,516" fill="none" stroke="#4b84d4" stroke-width="2.4"/>
<path d="M157,528 Q164,522 170,516" fill="none" stroke="#4b84d4" stroke-width="2.4"/>
<path d="M157,412.5 C170,425 183,442 182.5,458 C182,476 170,488 157,492.5 C144,488 132,476 132,458 C131.5,442 144,425 157,412.5 Z" fill="url(#leafTop)"/>
<path d="M156.3,492 L157,432 L157.7,492 Z" fill="#7eaee8" stroke="#7eaee8" stroke-width="0.8" opacity="0.85"/>
<path d="M84,490 C100,482 122,483 136,495 C146,503 149,513 149,520.5 C138,528 118,530 106,521 C95,513 92,499 84,490 Z" fill="url(#leafL)"/>
<path d="M97,494 Q122,500 146,518" fill="none" stroke="#8db6ec" stroke-width="1.5" opacity="0.8"/>
<path d="M230,491 C214,483 192,484 178,496 C168,504 165,513 165,520.5 C176,528 196,531 208,522 C219,514 222,500 230,491 Z" fill="url(#leafR)"/>
<path d="M217,495 Q192,501 168,518" fill="none" stroke="#8db6ec" stroke-width="1.5" opacity="0.8"/>
</g>
<g id="topPipes" fill="none" stroke-linecap="round" stroke-linejoin="round">
<path d="M522.8,226.5 L522.8,229 Q522.8,235.5 515,237.6 L482,246.7 Q470.2,250 470.2,262 L470.2,409" stroke="url(#pipeBP)" stroke-width="7.6"/>
<path d="M626,247 L626,250 Q626,262 637.5,259.6 L744,237.2 Q756,234.6 756,246 L756,345" stroke="url(#pipeBP2)" stroke-width="8"/>
</g>
<g id="icons">
<path d="M530,679.5 L516,683 C509,686 505.5,692 506,699 C506.5,706 509,711.5 513,714.5 L546,732 L560,695 Z" fill="url(#spBack)"/>
<ellipse cx="559.8" cy="694.5" rx="33.8" ry="38.3" fill="url(#spIcon)"/>
<g fill="none" stroke="#f4f1ff" stroke-width="1.8" stroke-linecap="round" stroke-linejoin="round">
<circle cx="559.2" cy="696" r="9.5"/>
<circle cx="559.2" cy="696" r="5" stroke-width="1" opacity="0.35"/>
<circle cx="559.2" cy="696" r="2.4" fill="#f4f1ff" stroke="none"/>
<path d="M552.5,703.5 L544.5,714 Q543.3,717 547,717 L572,717 Q575.3,717 574,714 L566,703.5"/>
<path d="M551,713 L567.5,713"/>
<path d="M547,683 A16,16 0 0 0 546,708.5"/>
<path d="M571.5,683 A16,16 0 0 1 572.5,708.5"/>
<path d="M544,679 A22,22 0 0 0 542,710"/>
<path d="M574.5,679 A22,22 0 0 1 576.5,710"/>
<path d="M548.5,675.5 Q559,671 569.5,675.5"/>
<path d="M551.5,679.5 Q559.2,676.5 567,679.5"/>
</g>
<circle cx="960.8" cy="571" r="38.2" fill="none" stroke="url(#crmRing)" stroke-width="17.6"/>
<line x1="984" y1="554.6" x2="1000.5" y2="544.2" stroke="#f4f7fe" stroke-width="2.6"/>
<circle cx="960.6" cy="571" r="29.3" fill="#f1f5fe"/>
<circle cx="961.2" cy="561.3" r="8.2" fill="#3c7ace"/>
<path d="M945.5,588 C945.5,580 951.5,575.2 961.2,575.2 C971,575.2 977,580 977,588 Z" fill="#3c7ace"/>
</g>
<g id="networks">
<line x1="511" y1="135" x2="562" y2="137.5" stroke="#56479a" stroke-width="1.6" stroke-linecap="round"/>
<line x1="562" y1="137.5" x2="607" y2="155" stroke="#56479a" stroke-width="1.6" stroke-linecap="round"/>
<line x1="607" y1="155" x2="676" y2="179.5" stroke="#56479a" stroke-width="1.6" stroke-linecap="round"/>
<line x1="511" y1="135" x2="499" y2="176" stroke="#56479a" stroke-width="1.6" stroke-linecap="round"/>
<line x1="511" y1="135" x2="534" y2="160" stroke="#56479a" stroke-width="1.6" stroke-linecap="round"/>
<line x1="499" y1="176" x2="534" y2="160" stroke="#56479a" stroke-width="1.6" stroke-linecap="round"/>
<line x1="534" y1="160" x2="562" y2="137.5" stroke="#56479a" stroke-width="1.6" stroke-linecap="round"/>
<line x1="534" y1="160" x2="557.5" y2="164.5" stroke="#56479a" stroke-width="1.6" stroke-linecap="round"/>
<line x1="557.5" y1="164.5" x2="577.5" y2="174" stroke="#56479a" stroke-width="1.6" stroke-linecap="round"/>
<line x1="557.5" y1="164.5" x2="542.5" y2="185" stroke="#56479a" stroke-width="1.6" stroke-linecap="round"/>
<line x1="562" y1="137.5" x2="577.5" y2="174" stroke="#56479a" stroke-width="1.6" stroke-linecap="round"/>
<line x1="577.5" y1="174" x2="607" y2="155" stroke="#56479a" stroke-width="1.6" stroke-linecap="round"/>
<line x1="542.5" y1="185" x2="618" y2="214" stroke="#56479a" stroke-width="1.6" stroke-linecap="round"/>
<path d="M676,179.5 L640.5,236 L628,238.5" fill="none" stroke="#56479a" stroke-width="1.6"/>
<path d="M536,184.5 Q519.7,186 519.7,198 L519.7,225" fill="none" stroke="#3f3282" stroke-width="2"/>
<ellipse cx="534" cy="160" rx="5.5" ry="3.2" fill="#6a54d8"/>
<circle cx="557.5" cy="164.5" r="2.8" fill="#5a44c8"/>
<circle cx="617" cy="204" r="13" fill="#cfcdf2" opacity="0.65" filter="url(#blur1)"/>
<circle cx="618" cy="216.3" r="15" fill="#cbcaf2" stroke="#6f61d3" stroke-width="2.8" filter="url(#blur1)"/>
<circle cx="617.5" cy="212" r="11" fill="#d2d1f5" opacity="0.8" filter="url(#blur2)"/>
<g transform="translate(511,135)"><circle r="9.5" fill="#6a54d8"/><circle cx="0" cy="-2.7" r="2.4" fill="#f3f1ff"/><path d="M-4.8,5.2 C-4.8,2.4 -2.9,0.8 0,0.8 C2.9,0.8 4.8,2.4 4.8,5.2 Z" fill="#f3f1ff"/></g>
<g transform="translate(562,137.5)"><circle r="14.5" fill="#6a54d8"/><circle cx="0" cy="-4.1" r="3.6" fill="#f3f1ff"/><path d="M-7.2,8 C-7.2,3.6 -4.3,1.2 0,1.2 C4.3,1.2 7.2,3.6 7.2,8 Z" fill="#f3f1ff"/></g>
<g transform="translate(607,155)"><circle r="13.5" fill="#6a54d8"/><circle cx="0" cy="-3.8" r="3.4" fill="#f3f1ff"/><path d="M-6.8,7.4 C-6.8,3.4 -4,1.1 0,1.1 C4,1.1 6.8,3.4 6.8,7.4 Z" fill="#f3f1ff"/></g>
<g transform="translate(499,176)"><circle r="13.5" fill="#6a54d8"/><circle cx="0" cy="-3.8" r="3.4" fill="#f3f1ff"/><path d="M-6.8,7.4 C-6.8,3.4 -4,1.1 0,1.1 C4,1.1 6.8,3.4 6.8,7.4 Z" fill="#f3f1ff"/></g>
<g transform="translate(577.5,174)"><circle r="9.5" fill="#6a54d8"/><circle cx="0" cy="-2.7" r="2.4" fill="#f3f1ff"/><path d="M-4.8,5.2 C-4.8,2.4 -2.9,0.8 0,0.8 C2.9,0.8 4.8,2.4 4.8,5.2 Z" fill="#f3f1ff"/></g>
<g transform="translate(542.5,185)"><circle r="9" fill="#6a54d8"/><circle cx="0" cy="-2.5" r="2.2" fill="#f3f1ff"/><path d="M-4.5,5 C-4.5,2.2 -2.7,0.7 0,0.7 C2.7,0.7 4.5,2.2 4.5,5 Z" fill="#f3f1ff"/></g>
<g transform="translate(676,179.5)"><circle r="10.5" fill="#6a54d8"/><circle cx="0" cy="-2.9" r="2.6" fill="#f3f1ff"/><path d="M-5.2,5.8 C-5.2,2.6 -3.1,0.8 0,0.8 C3.1,0.8 5.2,2.6 5.2,5.8 Z" fill="#f3f1ff"/></g>
<g transform="translate(620.5,240)"><circle r="8.7" fill="#6a54d8"/><circle cx="0" cy="-2.4" r="2.2" fill="#f3f1ff"/><path d="M-4.3,4.8 C-4.3,2.2 -2.6,0.7 0,0.7 C2.6,0.7 4.3,2.2 4.3,4.8 Z" fill="#f3f1ff"/></g>
<line x1="489" y1="774" x2="527" y2="819" stroke="#56479a" stroke-width="1.45" stroke-linecap="round"/>
<line x1="547.5" y1="786" x2="579" y2="779" stroke="#56479a" stroke-width="1.45" stroke-linecap="round"/>
<line x1="579" y1="779" x2="636" y2="810" stroke="#56479a" stroke-width="1.45" stroke-linecap="round"/>
<line x1="636" y1="810" x2="574" y2="821" stroke="#56479a" stroke-width="1.45" stroke-linecap="round"/>
<line x1="574" y1="821" x2="527" y2="819" stroke="#56479a" stroke-width="1.45" stroke-linecap="round"/>
<line x1="527" y1="819" x2="561" y2="802.5" stroke="#56479a" stroke-width="1.45" stroke-linecap="round"/>
<line x1="561" y1="802.5" x2="579" y2="779" stroke="#56479a" stroke-width="1.45" stroke-linecap="round"/>
<line x1="547.5" y1="786" x2="561" y2="802.5" stroke="#56479a" stroke-width="1.45" stroke-linecap="round"/>
<line x1="561" y1="802.5" x2="574" y2="821" stroke="#56479a" stroke-width="1.45" stroke-linecap="round"/>
<path d="M489,774 L521,771" fill="none" stroke="#56479a" stroke-width="1.45"/>
<path d="M521.5,765 L522,776 Q523,784 532,785 L541,786" fill="none" stroke="#3b2a8e" stroke-width="1.4"/>
<circle cx="561" cy="802.5" r="3" fill="#6a54d8"/>
<g transform="translate(489,774)"><circle r="7.5" fill="#6a54d8"/><circle cx="0" cy="-2.1" r="1.9" fill="#f3f1ff"/><path d="M-3.8,4.1 C-3.8,1.9 -2.2,0.6 0,0.6 C2.2,0.6 3.8,1.9 3.8,4.1 Z" fill="#f3f1ff"/></g>
<g transform="translate(547.5,786)"><circle r="7.5" fill="#6a54d8"/><circle cx="0" cy="-2.1" r="1.9" fill="#f3f1ff"/><path d="M-3.8,4.1 C-3.8,1.9 -2.2,0.6 0,0.6 C2.2,0.6 3.8,1.9 3.8,4.1 Z" fill="#f3f1ff"/></g>
<g transform="translate(579,779)"><circle r="8.5" fill="#6a54d8"/><circle cx="0" cy="-2.4" r="2.1" fill="#f3f1ff"/><path d="M-4.2,4.7 C-4.2,2.1 -2.5,0.7 0,0.7 C2.5,0.7 4.2,2.1 4.2,4.7 Z" fill="#f3f1ff"/></g>
<g transform="translate(636,810)"><circle r="11" fill="#6a54d8"/><circle cx="0" cy="-3.1" r="2.8" fill="#f3f1ff"/><path d="M-5.5,6.1 C-5.5,2.8 -3.3,0.9 0,0.9 C3.3,0.9 5.5,2.8 5.5,6.1 Z" fill="#f3f1ff"/></g>
<g transform="translate(574,821)"><circle r="13" fill="#6a54d8"/><circle cx="0" cy="-3.6" r="3.2" fill="#f3f1ff"/><path d="M-6.5,7.2 C-6.5,3.2 -3.9,1 0,1 C3.9,1 6.5,3.2 6.5,7.2 Z" fill="#f3f1ff"/></g>
<g transform="translate(527,819)"><circle r="9" fill="#6a54d8"/><circle cx="0" cy="-2.5" r="2.2" fill="#f3f1ff"/><path d="M-4.5,5 C-4.5,2.2 -2.7,0.7 0,0.7 C2.7,0.7 4.5,2.2 4.5,5 Z" fill="#f3f1ff"/></g>
<line x1="819" y1="643" x2="920" y2="660.5" stroke="#56479a" stroke-width="1.5" stroke-linecap="round"/>
<line x1="819" y1="643" x2="849.5" y2="684" stroke="#56479a" stroke-width="1.5" stroke-linecap="round"/>
<line x1="849.5" y1="684" x2="920" y2="660.5" stroke="#56479a" stroke-width="1.5" stroke-linecap="round"/>
<line x1="849.5" y1="684" x2="907.5" y2="699.5" stroke="#56479a" stroke-width="1.5" stroke-linecap="round"/>
<line x1="907.5" y1="699.5" x2="968.5" y2="705.5" stroke="#56479a" stroke-width="1.5" stroke-linecap="round"/>
<line x1="920" y1="660.5" x2="907.5" y2="699.5" stroke="#56479a" stroke-width="1.5" stroke-linecap="round"/>
<line x1="920" y1="660.5" x2="968.5" y2="705.5" stroke="#56479a" stroke-width="1.5" stroke-linecap="round"/>
<line x1="907.5" y1="699.5" x2="901.5" y2="751.5" stroke="#56479a" stroke-width="1.5" stroke-linecap="round"/>
<line x1="968.5" y1="705.5" x2="901.5" y2="751.5" stroke="#56479a" stroke-width="1.5" stroke-linecap="round"/>
<line x1="849.5" y1="684" x2="901.5" y2="751.5" stroke="#56479a" stroke-width="1.5" stroke-linecap="round"/>
<path d="M819,643 L869,631" fill="none" stroke="#56479a" stroke-width="1.3"/>
<path d="M872.5,629 L874,640 L920,660.5" fill="none" stroke="#4a3a8e" stroke-width="1.5"/>
<circle cx="907.5" cy="699.5" r="5" fill="#6a54d8"/>
<g transform="translate(819,643)"><circle r="16" fill="#6a54d8"/><circle cx="0" cy="-4.5" r="4" fill="#f3f1ff"/><path d="M-8,8.8 C-8,4 -4.8,1.3 0,1.3 C4.8,1.3 8,4 8,8.8 Z" fill="#f3f1ff"/></g>
<g transform="translate(920,660.5)"><circle r="18" fill="#6a54d8"/><circle cx="0" cy="-5" r="4.5" fill="#f3f1ff"/><path d="M-9,9.9 C-9,4.5 -5.4,1.4 0,1.4 C5.4,1.4 9,4.5 9,9.9 Z" fill="#f3f1ff"/></g>
<g transform="translate(849.5,684)"><circle r="18.5" fill="#6a54d8"/><circle cx="0" cy="-5.2" r="4.6" fill="#f3f1ff"/><path d="M-9.2,10.2 C-9.2,4.6 -5.5,1.5 0,1.5 C5.5,1.5 9.2,4.6 9.2,10.2 Z" fill="#f3f1ff"/></g>
<g transform="translate(968.5,705.5)"><circle r="18" fill="#6a54d8"/><circle cx="0" cy="-5" r="4.5" fill="#f3f1ff"/><path d="M-9,9.9 C-9,4.5 -5.4,1.4 0,1.4 C5.4,1.4 9,4.5 9,9.9 Z" fill="#f3f1ff"/></g>
<g transform="translate(901.5,751.5)"><circle r="22.5" fill="#6a54d8"/><circle cx="0" cy="-6.3" r="5.6" fill="#f3f1ff"/><path d="M-11.2,12.4 C-11.2,5.6 -6.8,1.8 0,1.8 C6.8,1.8 11.2,5.6 11.2,12.4 Z" fill="#f3f1ff"/></g>
</g>
<g id="texts">
<filter id="ts" x="-5%" y="-20%" width="110%" height="150%"><feDropShadow dx="0.6" dy="1.2" stdDeviation="0.45" flood-color="#1f3f8a" flood-opacity="0.3"/></filter>
<g filter="url(#ts)">
<text transform="translate(376,534) scale(0.6524,1)" font-size="34.2" fill="#f0f9ff" font-weight="bold" stroke="#f0f9ff" stroke-width="0.6" stroke-linejoin="round">Prospecting</text>
<text transform="translate(512.5,501) scale(0.6266,1)" font-size="34.9" fill="#f0f9ff" font-weight="bold" stroke="#f0f9ff" stroke-width="0.6" stroke-linejoin="round">Qualification</text>
<text transform="translate(657,469) scale(0.6414,1)" font-size="34.2" fill="#f0f9ff" font-weight="bold" stroke="#f0f9ff" stroke-width="0.6" stroke-linejoin="round">Prposal</text>
<text transform="translate(753,440) scale(0.6430,1)" font-size="34.2" fill="#f0f9ff" font-weight="bold" stroke="#f0f9ff" stroke-width="0.6" stroke-linejoin="round">Negotiation</text>
<text transform="translate(884,412.5) scale(0.6347,1)" font-size="33.5" fill="#f0f9ff" font-weight="bold" stroke="#f0f9ff" stroke-width="0.6" stroke-linejoin="round">Closing</text>
<text transform="translate(978,387.5) scale(0.6618,1)" font-size="33.5" fill="#f0f9ff" font-weight="bold" stroke="#f0f9ff" stroke-width="0.6" stroke-linejoin="round">Negotiation</text>
</g>
<text transform="translate(191,252.5) scale(0.7620,1)" font-size="34.2" fill="#131a44" stroke="#131a44" stroke-width="1.1" stroke-linejoin="round">Lead Generation/</text>
<text transform="translate(192,287) scale(0.8178,1)" font-size="32.7" fill="#131a44" stroke="#131a44" stroke-width="1.1" stroke-linejoin="round">Management</text>
<text transform="translate(607,690.9) scale(0.7633,1)" font-size="33.5" fill="#131a44" stroke="#131a44" stroke-width="1.1" stroke-linejoin="round">Sales</text>
<text transform="translate(603.5,725.3) scale(0.8011,1)" font-size="33.8" fill="#131a44" stroke="#131a44" stroke-width="1.1" stroke-linejoin="round">Performance</text>
<text transform="translate(1120.5,393.4) scale(0.7383,1)" font-size="34.2" fill="#131a44" stroke="#131a44" stroke-width="1.1" stroke-linejoin="round">Sales</text>
<text transform="translate(1122.5,428) scale(0.8026,1)" font-size="33.9" fill="#131a44" stroke="#131a44" stroke-width="1.1" stroke-linejoin="round">Analytics</text>
<text transform="translate(1022,566.5) scale(0.7733,1)" font-size="35.3" fill="#131a44" stroke="#131a44" stroke-width="1.1" stroke-linejoin="round">CRM/Contact</text>
<text transform="translate(1022.5,601.8) scale(0.8126,1)" font-size="33.1" fill="#131a44" stroke="#131a44" stroke-width="1.1" stroke-linejoin="round">Management</text>
</g>
</svg>
</body>
</html>
